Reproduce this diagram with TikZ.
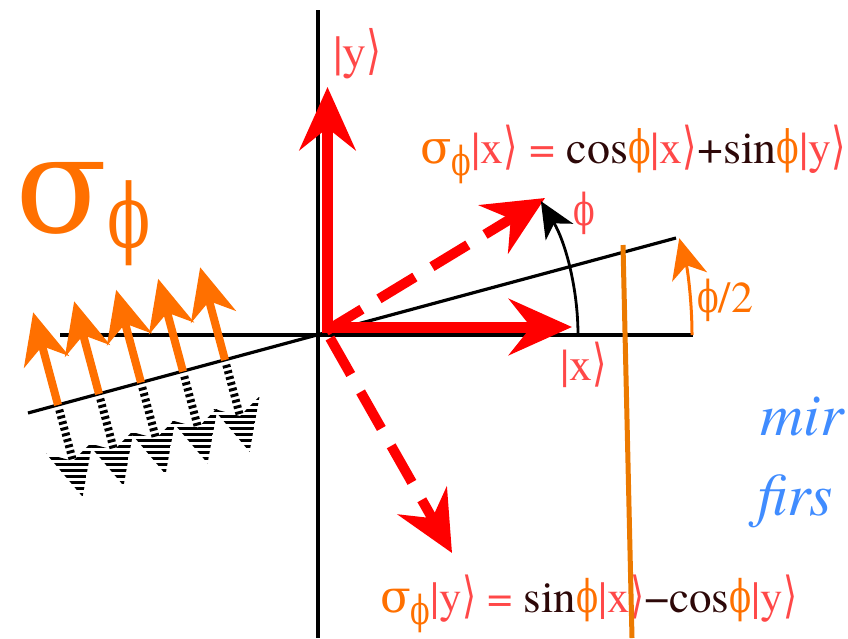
\documentclass[tikz,border=0pt]{standalone}
\usepackage{fontspec}
\IfFontExistsTF{texgyretermes-regular.otf}{%
  \setmainfont{texgyretermes}[Extension=.otf,UprightFont=*-regular,ItalicFont=*-italic,BoldFont=*-bold,BoldItalicFont=*-bolditalic]}{%
  \setmainfont{DejaVu Serif}}
\newfontfamily\grk{DejaVu Serif}
\newfontfamily\symf{DejaVu Sans}
\usetikzlibrary{arrows.meta,patterns.meta}
\definecolor{rd}{RGB}{255,0,0}
\definecolor{lbl}{RGB}{255,72,72}
\definecolor{orng}{RGB}{255,112,0}
\definecolor{orline}{RGB}{236,122,0}
\definecolor{dkc}{RGB}{45,8,8}
\definecolor{blu}{RGB}{64,140,255}
\newcommand{\gph}{\scalebox{0.72}[1]{\grk ϕ}}
\newcommand{\gsig}{{\grk σ}}
\newcommand{\rang}{\scalebox{0.8}[1.1]{\symf ⟩}}
\newcommand{\kt}[1]{\textcolor{lbl}{|#1\rang}}
\newcommand{\ph}{\textcolor{orng}{\gph}}
\newcommand{\dk}[1]{\textcolor{dkc}{#1}}
\tikzset{
  axis/.style={black, line width=3.2pt},
  redvec/.style={rd, line width=11pt, -{Stealth[length=63pt,width=56pt,inset=22pt]}},
  reddash/.style={rd, line width=10pt, dash pattern=on 42pt off 20pt, -{Stealth[length=60pt,width=56pt,inset=20pt]}},
  blkarc/.style={black, line width=2.8pt, -{Stealth[length=36pt,width=32pt,inset=10pt]}},
  orarc/.style={orng, line width=3pt, -{Stealth[length=40pt,width=36pt,inset=12pt]}},
  orray/.style={orng, line width=8pt, -{Stealth[length=51pt,width=46pt,inset=16pt]}},
  dashray/.style={black, line width=8pt, dash pattern=on 3pt off 3pt},
  lab/.style={inner sep=0pt, anchor=base west},
  mray/.pic={
    \draw[dashray] (0,5) -- (0,58);
    \fill[pattern={Lines[angle=0,distance=6pt,line width=3pt]}] (0,95) -- (-24,44) -- (0,58) -- (24,44) -- cycle;
    \draw[orray] (0,0) -- (0,-96);
  }
}
\begin{document}
\begin{tikzpicture}[x=1pt,y=-1pt]
\useasboundingbox (0,0) rectangle (848,638);
% axes and mirror
\coordinate (ytop) at (318,10);
\coordinate (ybot) at (318,638);
\coordinate (xl) at (60,335);
\coordinate (xr) at (693,335);
\coordinate (ml) at (28,413);
\coordinate (mr) at (676,238);
\draw[axis] (ytop) -- (ybot);
\draw[axis] (xl) -- (xr);
\draw[axis] (ml) -- (mr);
% incoming / reflected rays on the left
\foreach \p in {(58,405),(99,394),(141,382.5),(183,371.5),(225,360)}
  \pic[rotate=15] at \p {mray};
% red vectors
\coordinate (Ry) at (327.5,333);
\coordinate (Rx) at (322,327);
\coordinate (ytip) at (327.5,87);
\coordinate (xtip) at (572,327);
\draw[redvec] (Ry) -- (ytip);
\draw[redvec] (Rx) -- (xtip);
\coordinate (Ra) at (326,331);
\coordinate (atip) at (545,198);
\coordinate (Rb) at (330,338);
\coordinate (btip) at (452,553);
\draw[reddash] (Ra) -- (atip);
\draw[reddash] (Rb) -- (btip);
% angle arcs
\coordinate (arcA) at (578,335);
\draw[blkarc] (arcA) arc[start angle=0, end angle=-31, radius=260];
\coordinate (arcB) at (692,335);
\draw[orarc] (arcB) arc[start angle=0, end angle=-15, radius=374];
% labels
\node[lab, font=\fontsize{48}{50}\selectfont] (ly) at (333,68) {\kt{y}};
\node[lab, font=\fontsize{46}{50}\selectfont] (lx) at (560,380) {\kt{x}};
\node[lab, font=\fontsize{44}{50}\selectfont, text=lbl] (lphi) at (573,225) {\gph};
\node[lab, font=\fontsize{44}{50}\selectfont, text=orng] (lphi2) at (697,312) {\gph/2};
\node[lab, font=\fontsize{135}{140}\selectfont, text=orng] (sig) at (15,232) {\gsig\raisebox{-15pt}{\fontsize{88}{90}\selectfont\gph}};
\node[lab, font=\fontsize{46}{50}\selectfont] (eqx) at (420,163)
  {\textcolor{orng}{\gsig\raisebox{-12pt}{\fontsize{40}{42}\selectfont\gph}}\kt{x}\ \textcolor{lbl}{=}\ \dk{cos}\ph\kt{x}\dk{+sin}\ph\kt{y}};
\node[lab, font=\fontsize{45}{50}\selectfont] (eqy) at (380,612)
  {\textcolor{orng}{\gsig\raisebox{-12pt}{\fontsize{40}{42}\selectfont\gph}}\kt{y}\ \textcolor{lbl}{=}\ \dk{sin}\ph\kt{x}\dk{−cos}\ph\kt{y}};
\node[lab, font=\fontsize{60}{64}\selectfont\itshape, text=blu] (mir) at (760,435) {mir};
\node[lab, font=\fontsize{60}{64}\selectfont\itshape, text=blu] (firs) at (757,515) {firs};
% orange line
\coordinate (ol1) at (623,245);
\coordinate (ol2) at (632,638);
\draw[orline, line width=5pt] (ol1) -- (ol2);
\end{tikzpicture}
\end{document}
